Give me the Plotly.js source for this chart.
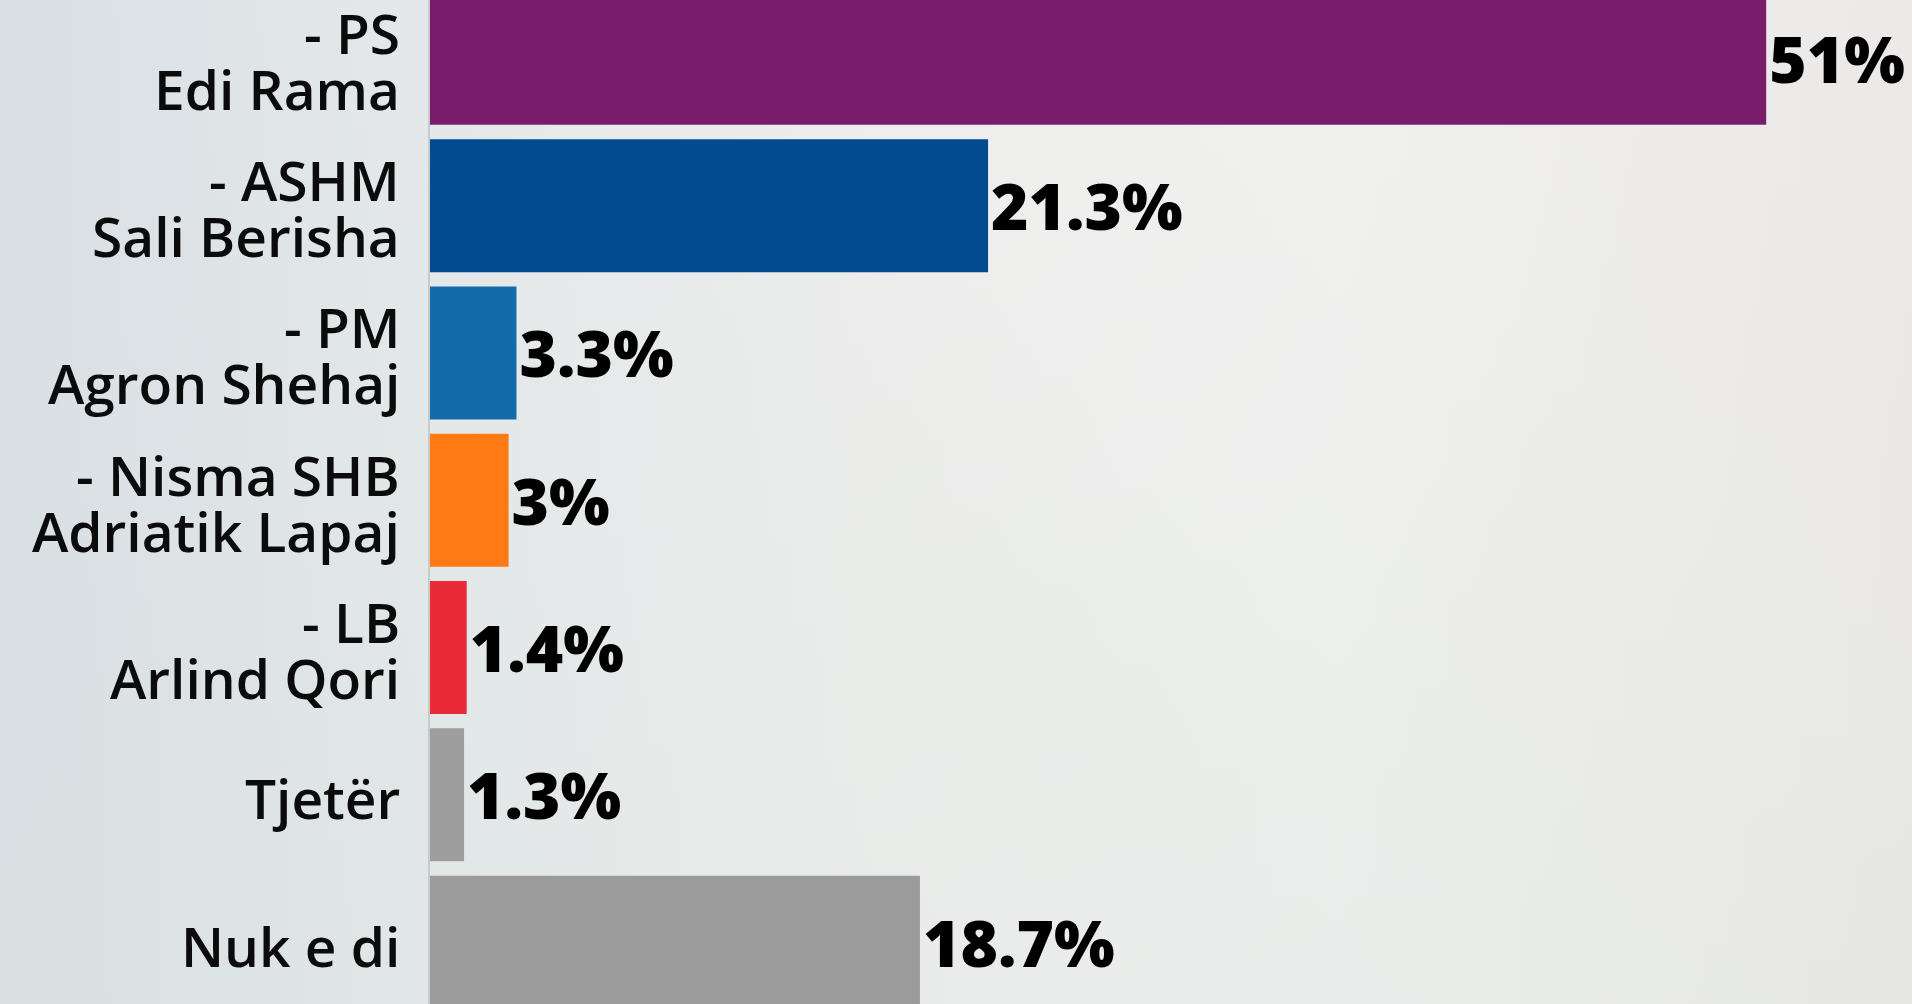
<!DOCTYPE html>
<html>
<head>
<meta charset="utf-8">
<script src="https://cdn.plot.ly/plotly-3.0.1.min.js"></script>
<style>
  html, body { margin: 0; padding: 0; }
  body {
    width: 1912px; height: 1004px; overflow: hidden;
    background:
      linear-gradient(180deg, rgba(214,222,228,0.0) 0%, rgba(214,226,220,0.25) 100%),
      linear-gradient(90deg, #d9dfe4 0%, #e4e8ea 22%, #eeeeed 45%, #f1f1f0 70%, #ece9e8 100%);
  }
</style>
</head>
<body>
<div id="poll-chart"></div>
<script>
// poll values
const parties = ['- PS', '- ASHM', '- PM', '- Nisma SHB', '- LB', '', ''];
const leaders = ['Edi Rama', 'Sali Berisha', 'Agron Shehaj', 'Adriatik Lapaj', 'Arlind Qori', 'Tjetër', 'Nuk e di'];
const shares = [51, 21.3, 3.3, 3, 1.4, 1.3, 18.7];
const barColors = ['#7a1c6c', '#034b91', '#136ca8', '#ff7a12', '#e92b38', '#9e9e9e', '#9b9b9b'];

const W = 1912, H = 1004, LEFT = 430;
const plotW = W - LEFT;
const labelFont = { family: 'Open Sans, Noto Sans, sans-serif', size: 55, weight: 600, color: '#0b0b0b' };

// two-line category labels, right aligned against the axis
const annotations = [];
leaders.forEach((name, i) => {
  const base = {
    x: 0, xref: 'x', y: name, yref: 'y',
    xanchor: 'right', yanchor: 'middle', xshift: -28,
    showarrow: false, font: labelFont
  };
  if (parties[i]) {
    annotations.push(Object.assign({}, base, { text: parties[i], yshift: 26 }));
    annotations.push(Object.assign({}, base, { text: name, yshift: -30 }));
  } else {
    annotations.push(Object.assign({}, base, { text: name, yshift: -3 }));
  }
});

const data = [{
  type: 'bar',
  orientation: 'h',
  x: shares,
  y: leaders,
  marker: { color: barColors, line: { width: 0 } },
  text: shares.map(v => v + '%'),
  textposition: 'outside',
  cliponaxis: false,
  constraintext: 'none',
  textfont: { family: 'Open Sans, Noto Sans, sans-serif', size: 64, weight: 800, color: '#000000' },
  hoverinfo: 'none'
}];

const layout = {
  width: W,
  height: H,
  margin: { l: LEFT, r: 0, t: 0, b: 0, pad: 0 },
  paper_bgcolor: 'rgba(0,0,0,0)',
  plot_bgcolor: 'rgba(0,0,0,0)',
  showlegend: false,
  bargap: 0.097,
  xaxis: {
    range: [0, plotW / 26.2],
    visible: false,
    fixedrange: true
  },
  yaxis: {
    type: 'category',
    categoryorder: 'array',
    categoryarray: leaders,
    range: [6.42, -0.396],
    showticklabels: false,
    ticks: '',
    showgrid: false,
    zeroline: false,
    showline: true,
    linecolor: '#c8cbcc',
    linewidth: 2,
    fixedrange: true
  },
  annotations: annotations
};

Plotly.newPlot('poll-chart', data, layout, { displayModeBar: false, staticPlot: true });
</script>
</body>
</html>
